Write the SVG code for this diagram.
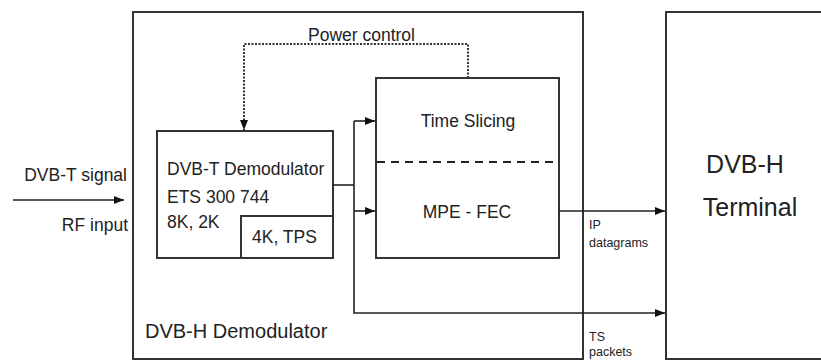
<svg xmlns="http://www.w3.org/2000/svg" width="821" height="361" viewBox="0 0 821 361">
<style>
.box{fill:none;stroke:#333;stroke-width:2}
.ln{fill:none;stroke:#222;stroke-width:1.6}
.dot{fill:none;stroke:#333;stroke-width:2;stroke-dasharray:2 1.5}
.dash{fill:none;stroke:#222;stroke-width:2;stroke-dasharray:8 6}
text{font-family:"Liberation Sans",Arial,sans-serif;fill:#222;font-size:17.5px}
.sm{font-size:12.5px}
.big{font-size:25px}
</style>
<defs>
<marker id="ah" viewBox="0 0 10 8" refX="10" refY="4" markerWidth="10" markerHeight="8" markerUnits="userSpaceOnUse" orient="auto">
<path d="M0,0 L10,4 L0,8 Z" fill="#111"/>
</marker>
</defs>
<rect x="0" y="0" width="821" height="361" fill="#fff"/>
<g id="demodulator">
<rect class="box" x="133" y="12" width="450" height="347"/>
<text x="145" y="338" style="font-size:20px">DVB-H Demodulator</text>
</g>
<g id="terminal">
<rect class="box" x="666" y="12" width="170" height="347"/>
<text class="big" x="745" y="173" text-anchor="middle">DVB-H</text>
<text class="big" x="750" y="216" text-anchor="middle">Terminal</text>
</g>
<g id="dvbt-demod">
<rect class="box" x="157" y="131" width="176" height="127"/>
<text x="167" y="175">DVB-T Demodulator</text>
<text x="167" y="203">ETS 300 744</text>
<text x="167" y="228">8K, 2K</text>
</g>
<g id="tps">
<rect class="box" x="241" y="216" width="92" height="42"/>
<text x="252" y="243">4K, TPS</text>
</g>
<g id="timeslicing">
<rect class="box" x="376" y="78" width="183" height="180"/>
<line class="dash" x1="377" y1="162" x2="558" y2="162"/>
<text x="468" y="127" text-anchor="middle">Time Slicing</text>
<text x="467" y="218" text-anchor="middle">MPE - FEC</text>
</g>
<g id="connectors">
<path class="dot" d="M468,78 V44 H244 V130" marker-end="url(#ah)"/>
<line class="ln" x1="13" y1="200" x2="124" y2="200" marker-end="url(#ah)"/>
<path class="ln" d="M333,185 H354"/>
<path class="ln" d="M354,121 V313 H665" marker-end="url(#ah)"/>
<path class="ln" d="M354,121 H375" marker-end="url(#ah)"/>
<path class="ln" d="M354,211 H375" marker-end="url(#ah)"/>
<line class="ln" x1="559" y1="211" x2="665" y2="211" marker-end="url(#ah)"/>
</g>
<g id="labels">
<text x="308" y="41">Power control</text>
<text x="127" y="181" text-anchor="end">DVB-T signal</text>
<text x="128" y="231" text-anchor="end">RF input</text>
<text class="sm" x="589" y="229">IP</text>
<text class="sm" x="589" y="247">datagrams</text>
<text class="sm" x="589" y="341">TS</text>
<text class="sm" x="589" y="356">packets</text>
</g>
</svg>
